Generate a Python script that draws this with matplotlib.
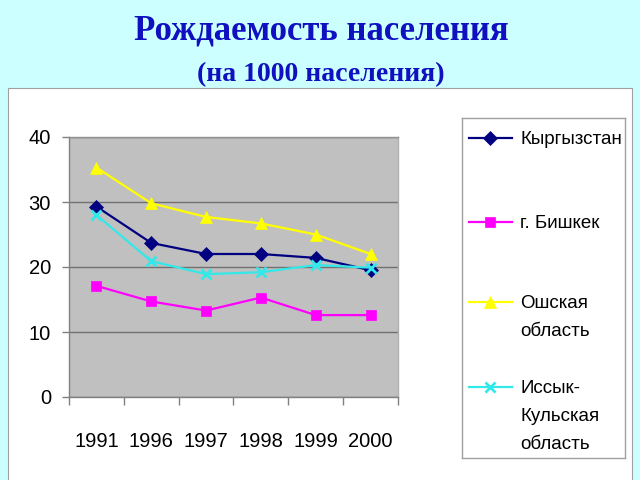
"""Birth rate per 1000 population, Kyrgyzstan and regions, 1991-2000."""

import matplotlib.pyplot as plt
from matplotlib.lines import Line2D
from matplotlib.patches import Rectangle

YEARS = ["1991", "1996", "1997", "1998", "1999", "2000"]

KYRGYZSTAN = [29.3, 23.7, 22.0, 22.0, 21.4, 19.5]
BISHKEK = [17.1, 14.7, 13.3, 15.3, 12.6, 12.6]
OSH = [35.3, 29.8, 27.7, 26.7, 25.0, 22.0]
ISSYK_KUL = [28.0, 20.9, 18.9, 19.2, 20.3, 19.9]

SERIES = (
    ("Кыргызстан", KYRGYZSTAN, "#000080", "D", 7),
    ("г. Бишкек", BISHKEK, "#ff00ff", "s", 7),
    ("Ошская\nобласть", OSH, "#ffff00", "^", 9),
    ("Иссык-\nКульская\nобласть", ISSYK_KUL, "#33e8e8", "x", 7),
)

SANS = ["Liberation Sans", "DejaVu Sans"]
SERIF = ["Liberation Serif", "DejaVu Serif"]
TITLE_BLUE = "#1010c0"

fig = plt.figure(figsize=(6.4, 4.8), dpi=100, facecolor="#ccffff")

# white chart panel
fig.patches.append(Rectangle((8 / 640, -0.05), 624 / 640, 1.05 - 88 / 480,
                             transform=fig.transFigure, facecolor="white",
                             edgecolor="#a0a0a0", linewidth=0.8, zorder=-5))

fig.text(0.502, 1 - 31 / 480, "Рождаемость населения", family=SERIF,
         fontsize=25, fontweight="bold", color=TITLE_BLUE,
         ha="center", va="center")
fig.text(0.502, 1 - 75 / 480, "(на 1000 населения)", family=SERIF,
         fontsize=20, fontweight="bold", color=TITLE_BLUE,
         ha="center", va="center")

ax = fig.add_axes([69 / 640, 1 - 397 / 480, 329 / 640, 260 / 480])
ax.set_facecolor("#c0c0c0")
positions = range(len(YEARS))
for label, values, color, marker, size in SERIES:
    ax.plot(positions, values, color=color, linewidth=1.6, marker=marker,
            markersize=size, markeredgewidth=2 if marker == "x" else 0.5,
            markeredgecolor=color, clip_on=False)

ax.set_xlim(-0.5, len(YEARS) - 0.5)
ax.set_ylim(0, 40)
ax.set_yticks([0, 10, 20, 30, 40])
ax.yaxis.grid(True, color="#707070", linewidth=1)
ax.set_axisbelow(True)
ax.set_xticks(list(positions))
ax.set_xticklabels(YEARS)
ax.set_xticks([p - 0.5 for p in range(len(YEARS) + 1)], minor=True)
ax.tick_params(axis="x", which="major", length=0, pad=25)
ax.tick_params(axis="x", which="minor", length=6, color="#808080", width=1)
ax.tick_params(axis="y", length=5, color="#808080", width=1, pad=8)
for tick in ax.get_xticklabels() + ax.get_yticklabels():
    tick.set_family(SANS)
    tick.set_fontsize(14.5)
for spine in ax.spines.values():
    spine.set_color("#808080")
    spine.set_linewidth(1)
ax.spines["top"].set_color("#909090")
ax.spines["right"].set_color("#b0b0b0")

# legend box drawn in pixel-like coordinates
leg = fig.add_axes([462 / 640, 1 - 458 / 480, 163 / 640, 340 / 480])
leg.set_xlim(0, 163)
leg.set_ylim(340, 0)
leg.set_xticks([])
leg.set_yticks([])
for spine in leg.spines.values():
    spine.set_color("#a0a0a0")
    spine.set_linewidth(1)
for (label, values, color, marker, size), y in zip(SERIES, (20, 104, 184, 269)):
    leg.add_line(Line2D([7, 50], [y, y], color=color, linewidth=1.6))
    leg.add_line(Line2D([28], [y], color=color, marker=marker,
                        markersize=size, markeredgecolor=color,
                        markeredgewidth=2 if marker == "x" else 0.5))
    leg.text(58, y - 7, label, family=SANS, fontsize=13.5,
             va="top", ha="left", linespacing=1.85)

fig.savefig("out.png", dpi=100, facecolor=fig.get_facecolor())
